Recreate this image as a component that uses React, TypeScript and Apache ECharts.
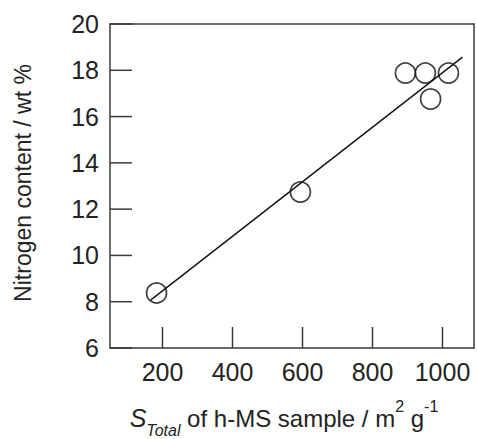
import React, { useEffect, useRef } from "react";
import * as echarts from "echarts";

const surfaceArea: number[] = [183, 594, 894, 951, 966, 1017];
const nitrogenContent: number[] = [8.38, 12.74, 17.88, 17.88, 16.76, 17.88];
const fitLine: [number, number][] = [
  [166, 8.07],
  [1057, 18.57],
];
const xTicks: number[] = [200, 400, 600, 800, 1000];
const yTicks: number[] = [6, 8, 10, 12, 14, 16, 18, 20];
const xTitle = { s: "S", sub: "Total", main: " of h-MS sample / m", sup1: "2", g: " g", sup2: "-1" };
const yTitle = "Nitrogen content / wt %";

const X_MIN = 50;
const X_MAX = 1090;
const Y_MIN = 6;
const Y_MAX = 20;

const FONT = 'Arial, "Liberation Sans", Helvetica, sans-serif';
const TXT = "#232323";
const AX = "#3a3a3a";

export default function App() {
  const ref = useRef<HTMLDivElement>(null);
  useEffect(() => {
    if (!ref.current) return;
    const chart = echarts.init(ref.current, undefined, { renderer: "svg" });
    const points = surfaceArea.map((x, i) => [x, nitrogenContent[i]]);
    const frameAxis = {
      type: "value",
      axisLine: { show: true, onZero: false, lineStyle: { color: AX, width: 1.5 } },
      axisTick: { show: false },
      axisLabel: { show: false },
      splitLine: { show: false },
    };
    chart.setOption({
      animation: false,
      backgroundColor: "#fff",
      grid: { left: 110, top: 24, right: 3, bottom: 91 },
      xAxis: [
        {
          type: "value",
          min: X_MIN,
          max: X_MAX,
          axisLine: { show: true, onZero: false, lineStyle: { color: AX, width: 1.5 } },
          axisTick: { show: false },
          axisLabel: {
            show: true,
            customValues: xTicks,
            color: TXT,
            fontSize: 25,
            fontFamily: FONT,
            margin: 11,
            formatter: (v: number) => String(v),
          },
          splitLine: { show: false },
        },
        { ...frameAxis, position: "top", min: X_MIN, max: X_MAX },
      ],
      yAxis: [
        {
          type: "value",
          min: Y_MIN,
          max: Y_MAX,
          interval: 2,
          axisLine: { show: true, onZero: false, lineStyle: { color: AX, width: 1.5 } },
          axisTick: { show: false },
          axisLabel: { show: true, color: TXT, fontSize: 25, fontFamily: FONT, margin: 11 },
          splitLine: { show: false },
        },
        { ...frameAxis, position: "right", min: Y_MIN, max: Y_MAX, interval: 2 },
      ],
      graphic: [
        {
          type: "text",
          x: 284,
          y: 418,
          silent: true,
          style: {
            text: `{s|${xTitle.s}}{sub|${xTitle.sub}}{n|${xTitle.main}}{sup|${xTitle.sup1}}{n|${xTitle.g}}{sup|${xTitle.sup2}}`,
            align: "center",
            verticalAlign: "middle",
            fill: TXT,
            font: `24px ${FONT}`,
            rich: {
              s: { fontSize: 25, fontStyle: "italic", lineHeight: 40, fontFamily: FONT, fill: TXT },
              sub: { fontSize: 16, fontStyle: "italic", lineHeight: 20, verticalAlign: "bottom", fontFamily: FONT, fill: TXT },
              n: { fontSize: 24, lineHeight: 40, fontFamily: FONT, fill: TXT },
              sup: { fontSize: 16, lineHeight: 20, verticalAlign: "top", fontFamily: FONT, fill: TXT },
            },
          },
        },
        {
          type: "text",
          x: 23,
          y: 183,
          rotation: Math.PI / 2,
          silent: true,
          style: {
            text: yTitle,
            align: "center",
            verticalAlign: "middle",
            fill: TXT,
            fontSize: 23,
            fontFamily: FONT,
          },
        },
      ],
      series: [
        {
          type: "custom",
          name: "xTicks",
          silent: true,
          data: xTicks.map((v) => [v, Y_MIN]),
          encode: { x: 0, y: 1 },
          renderItem: (_params: any, api: any) => {
            const p = api.coord([api.value(0), api.value(1)]);
            return {
              type: "line",
              shape: { x1: p[0], y1: p[1], x2: p[0], y2: p[1] - 21 },
              style: { stroke: AX, lineWidth: 1.5 },
            };
          },
          z: 3,
        },
        {
          type: "custom",
          name: "yTicks",
          silent: true,
          data: yTicks.map((v) => [X_MIN, v]),
          encode: { x: 0, y: 1 },
          renderItem: (_params: any, api: any) => {
            const p = api.coord([api.value(0), api.value(1)]);
            return {
              type: "line",
              shape: { x1: p[0], y1: p[1], x2: p[0] + 22, y2: p[1] },
              style: { stroke: AX, lineWidth: 1.5 },
            };
          },
          z: 3,
        },
        { type: "line", data: fitLine, showSymbol: false, symbol: "none", lineStyle: { color: "#111", width: 1.4 }, silent: true, z: 1 },
        { type: "scatter", data: points, symbol: "circle", symbolSize: 20, itemStyle: { color: "none", borderColor: "#111", borderWidth: 1.7 }, z: 2 },
      ],
    });
    return () => chart.dispose();
  }, []);
  return <div ref={ref} style={{ position: "fixed", left: 0, top: 0, width: 477, height: 439 }} />;
}
